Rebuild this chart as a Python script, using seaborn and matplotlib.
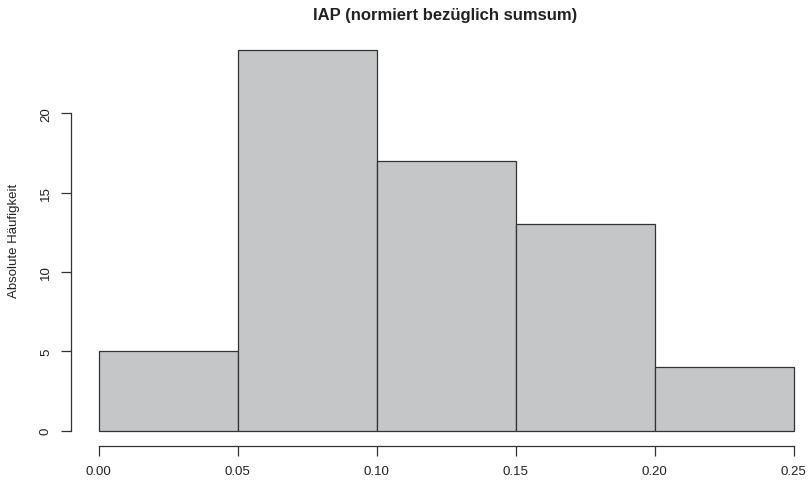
import matplotlib
matplotlib.use("Agg")
import matplotlib.pyplot as plt
import seaborn as sns
import numpy as np

# Data
bin_edges = [0.00, 0.05, 0.10, 0.15, 0.20, 0.25]
bin_counts = [5, 24, 17, 13, 4]
x_ticks = [0.00, 0.05, 0.10, 0.15, 0.20, 0.25]
x_labels = ["0.00", "0.05", "0.10", "0.15", "0.20", "0.25"]
y_ticks = [0, 5, 10, 15, 20]
title = "IAP (normiert bezüglich sumsum)"
ylabel = "Absolute Häufigkeit"

sns.set_style("white")
plt.rcParams['font.family'] = ['Liberation Sans', 'DejaVu Sans']

W, H = 810, 481
fig = plt.figure(figsize=(W / 100, H / 100), dpi=100)

xmin, xmax = -0.01, 0.26
ymin, ymax = -0.96, 24.96
# pixel positions
px0, px25 = 98.5, 793.7
ppu_x = (px25 - px0) / 0.25
left_px = px0 + (xmin - 0.0) * ppu_x
right_px = px0 + (xmax - 0.0) * ppu_x
py0 = 431.7
ppu_y = 15.875
bottom_px = py0 - (ymin) * ppu_y
top_px = py0 - ymax * ppu_y
ax = fig.add_axes([left_px / W, 1 - bottom_px / H,
                   (right_px - left_px) / W, (bottom_px - top_px) / H])

centers = [(bin_edges[i] + bin_edges[i + 1]) / 2 for i in range(len(bin_counts))]
sns.histplot(x=centers, weights=bin_counts, bins=bin_edges, ax=ax,
             color="#c5c6c8", edgecolor="#333333", linewidth=0.9, alpha=1.0)

ax.set_xlim(xmin, xmax)
ax.set_ylim(ymin, ymax)
for s in ["top", "right"]:
    ax.spines[s].set_visible(False)
for s in ["left", "bottom"]:
    ax.spines[s].set_color("#333333")
    ax.spines[s].set_linewidth(0.9)
ax.spines["bottom"].set_bounds(0.0, 0.25)
ax.spines["left"].set_bounds(0, 20)
ax.set_xticks(x_ticks)
ax.set_xticklabels(x_labels)
ax.set_yticks(y_ticks)
ax.set_yticklabels([str(v) for v in y_ticks], rotation=90, va="center")
ax.tick_params(axis="both", which="major", direction="out", length=7, width=0.9,
               color="#333333", labelsize=9.5, labelcolor="#222222", pad=6.5,
               bottom=True, left=True)
ax.set_xlabel("")
ax.set_ylabel(ylabel, fontsize=9.5, color="#222222", labelpad=14)
ax.grid(False)
fig.text(445 / W, 1 - 15.5 / H, title, ha="center", va="center",
         fontsize=12, fontweight="bold", color="#222222")

fig.savefig("out.png", dpi=100)
